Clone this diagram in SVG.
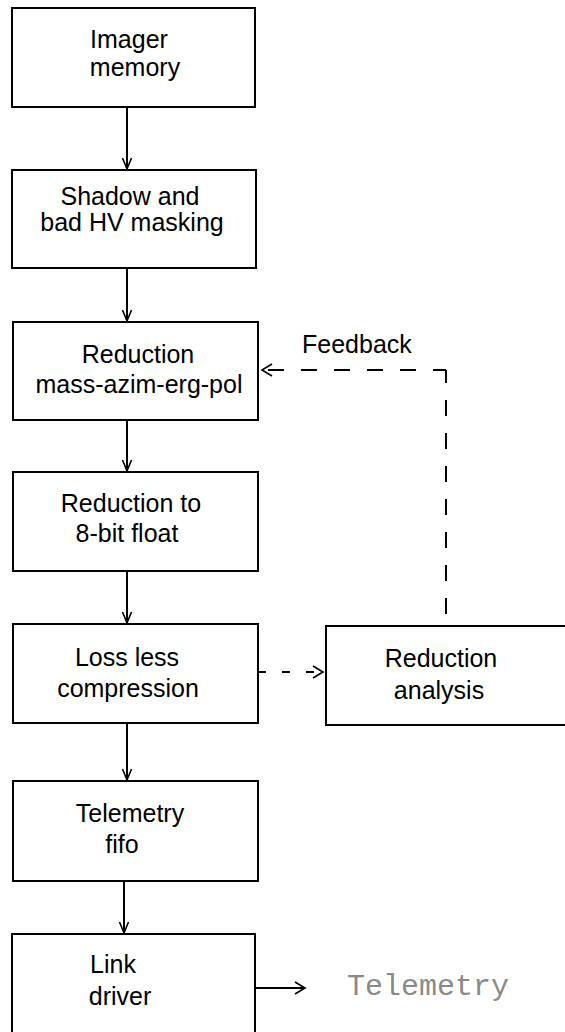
<svg xmlns="http://www.w3.org/2000/svg" width="565" height="1032" viewBox="0 0 565 1032">
<style>
.box{fill:#fff;stroke:#000;stroke-width:2}
.t{font-family:"Liberation Sans",Arial,sans-serif;font-size:25px;fill:#000;text-anchor:middle}
.ln{fill:none;stroke:#000;stroke-width:2}
.dash{fill:none;stroke:#000;stroke-width:2;stroke-dasharray:16 17}
.mono{font-family:"Liberation Mono","Courier New",monospace;font-size:30px;fill:#8a8a8a}
</style>
<defs>
<marker id="v" markerUnits="userSpaceOnUse" orient="auto" refX="0" refY="0" markerWidth="12" markerHeight="12" overflow="visible">
<path d="M-11,-4.5 L0,0 L-11,4.5" fill="none" stroke="#000" stroke-width="1.6"/>
</marker>
<marker id="chev" markerUnits="userSpaceOnUse" orient="auto" refX="0" refY="0" markerWidth="12" markerHeight="14" overflow="visible">
<path d="M-10,-6 L0,0 L-10,6" fill="none" stroke="#000" stroke-width="1.6"/>
</marker>
</defs>
<rect width="565" height="1032" fill="#fff"/>
<g id="connectors">
<path class="ln" d="M127,107 V169" marker-end="url(#v)"/>
<path class="ln" d="M127,268 V321" marker-end="url(#v)"/>
<path class="ln" d="M127,420 V471" marker-end="url(#v)"/>
<path class="ln" d="M127,571 V623" marker-end="url(#v)"/>
<path class="ln" d="M127,723 V780" marker-end="url(#v)"/>
<path class="ln" d="M124,881 V933" marker-end="url(#v)"/>
<path class="dash" d="M446,370 V625" stroke-dasharray="16 18.6" stroke-dashoffset="3"/>
<path class="dash" d="M446,370 H262" stroke-dashoffset="3" marker-end="url(#chev)"/>
<path class="ln" d="M258,672 H323" stroke-dasharray="8 16" marker-end="url(#chev)"/>
<path class="ln" d="M255,988 H305" marker-end="url(#chev)"/>
</g>
<g id="imager-memory">
<rect class="box" x="12" y="8" width="243" height="99"/>
<text class="t" x="129" y="48">Imager</text>
<text class="t" x="135" y="76">memory</text>
</g>
<g id="shadow-masking">
<rect class="box" x="12" y="170" width="244" height="98"/>
<text class="t" x="130" y="205">Shadow and</text>
<text class="t" x="132" y="231">bad HV masking</text>
</g>
<g id="reduction-mass">
<rect class="box" x="13" y="322" width="245" height="98"/>
<text class="t" x="138" y="363">Reduction</text>
<text class="t" x="139" y="393">mass-azim-erg-pol</text>
</g>
<g id="reduction-8bit">
<rect class="box" x="13" y="472" width="245" height="99"/>
<text class="t" x="131" y="512">Reduction to</text>
<text class="t" x="127" y="542">8-bit float</text>
</g>
<g id="lossless">
<rect class="box" x="13" y="624" width="245" height="99"/>
<text class="t" x="127" y="666">Loss less</text>
<text class="t" x="128" y="697">compression</text>
</g>
<g id="reduction-analysis">
<rect class="box" x="326" y="626" width="260" height="99"/>
<text class="t" x="441" y="667">Reduction</text>
<text class="t" x="439" y="699">analysis</text>
</g>
<g id="telemetry-fifo">
<rect class="box" x="13" y="781" width="245" height="100"/>
<text class="t" x="130" y="822">Telemetry</text>
<text class="t" x="122" y="853">fifo</text>
</g>
<g id="link-driver">
<rect class="box" x="12" y="934" width="243" height="130"/>
<text class="t" x="113" y="973">Link</text>
<text class="t" x="120" y="1005">driver</text>
</g>
<g id="labels">
<text class="t" x="302" y="353" style="text-anchor:start">Feedback</text>
<text class="mono" x="347" y="995">Telemetry</text>
</g>
</svg>
